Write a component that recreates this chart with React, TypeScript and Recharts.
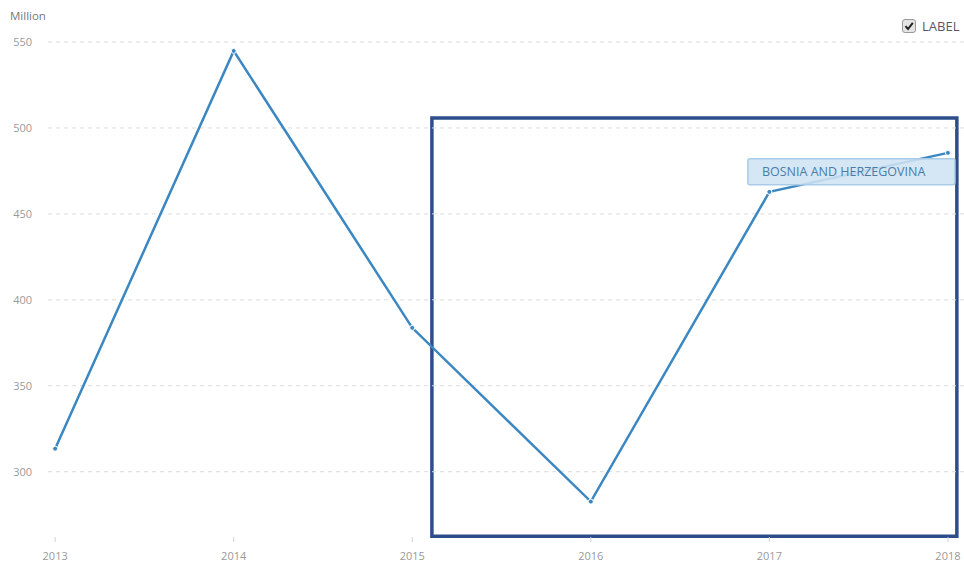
import React from 'react';
import {
  LineChart,
  Line,
  XAxis,
  YAxis,
  ReferenceArea,
  ReferenceLine,
} from 'recharts';

const years = [2013, 2014, 2015, 2016, 2017, 2018];
const values = [313.4, 544.8, 383.7, 282.6, 462.8, 485.5];
const yTicks = [300, 350, 400, 450, 500, 550];
const yDomain = [262, 550];
const seriesName = 'BOSNIA AND HERZEGOVINA';

// highlighted window, in data units
const focusYears = [2015.11, 2018.05];
const focusValues = [262.5, 505.8];

const data = years.map((year, i) => ({ year, value: values[i] }));

const LINE_COLOR = '#3b87c2';
const FONT = '"Open Sans", "DejaVu Sans", sans-serif';

function SeriesLabel(props: any) {
  const { x, y, index } = props;
  if (index !== data.length - 1) return null;
  const w = 207;
  const h = 26;
  const left = x + 7 - w;
  const top = y + 6;
  return (
    <g>
      <rect
        x={left}
        y={top}
        width={w}
        height={h}
        rx={2}
        fill="#cfe2f3"
        fillOpacity={0.88}
        stroke="#a9cbe7"
        strokeWidth={1.5}
      />
      <text
        x={left + 14}
        y={top + h / 2}
        dy="0.35em"
        fontSize={12.5}
        fill="#4a7cab"
        fontFamily={FONT}
      >
        {seriesName}
      </text>
    </g>
  );
}

export default function App() {
  return (
    <div
      style={{
        position: 'fixed',
        left: 0,
        top: 0,
        width: 964,
        height: 562,
        background: '#fff',
        fontFamily: FONT,
        overflow: 'hidden',
      }}
    >
      <div style={{ position: 'absolute', left: 10, top: 8, fontSize: 11.5, color: '#777' }}>
        Million
      </div>
      <div style={{ position: 'absolute', left: 902, top: 17, display: 'flex', alignItems: 'center' }}>
        <svg width={14} height={14}>
          <rect x={0.5} y={0.5} width={13} height={13} rx={2.5} fill="#e4e4e4" stroke="#9a9a9a" />
          <path d="M3.5 7.2 L6 10 L10.8 3.8" fill="none" stroke="#222" strokeWidth={2} />
        </svg>
        <span style={{ marginLeft: 6, fontSize: 13, color: '#5a5566', whiteSpace: 'nowrap' }}>LABEL</span>
      </div>
      <LineChart
        width={964}
        height={562}
        data={data}
        margin={{ top: 42, right: 0, bottom: 0, left: 0 }}
      >
        {/* dashed guide at each labelled value */}
        {yTicks.map((v) => (
          <ReferenceLine
            key={v}
            y={v}
            stroke="#dcdcdc"
            strokeDasharray="4 4"
            ifOverflow="visible"
          />
        ))}
        <XAxis
          dataKey="year"
          type="number"
          domain={[2012.96, 2018.09]}
          ticks={years}
          allowDataOverflow
          axisLine={false}
          tickLine={{ stroke: '#cfcfcf' }}
          tickSize={5}
          tickMargin={10}
          height={25}
          tick={{ fontSize: 11, fill: '#9a9a9a', fontFamily: FONT }}
        />
        <YAxis
          domain={yDomain}
          ticks={yTicks}
          allowDataOverflow
          axisLine={false}
          tickLine={false}
          width={48}
          tickMargin={10}
          tick={{ fontSize: 11, fill: '#9a9a9a', fontFamily: FONT }}
        />
        <Line
          type="linear"
          dataKey="value"
          stroke={LINE_COLOR}
          strokeWidth={2.5}
          dot={{ r: 2.5, fill: LINE_COLOR, stroke: '#fff', strokeWidth: 1 }}
          activeDot={false}
          label={<SeriesLabel />}
          isAnimationActive={false}
        />
        <ReferenceArea
          x1={focusYears[0]}
          x2={focusYears[1]}
          y1={focusValues[0]}
          y2={focusValues[1]}
          ifOverflow="visible"
          fill="none"
          fillOpacity={0}
          stroke="#2d4e8b"
          strokeWidth={3.5}
        />
      </LineChart>
    </div>
  );
}
